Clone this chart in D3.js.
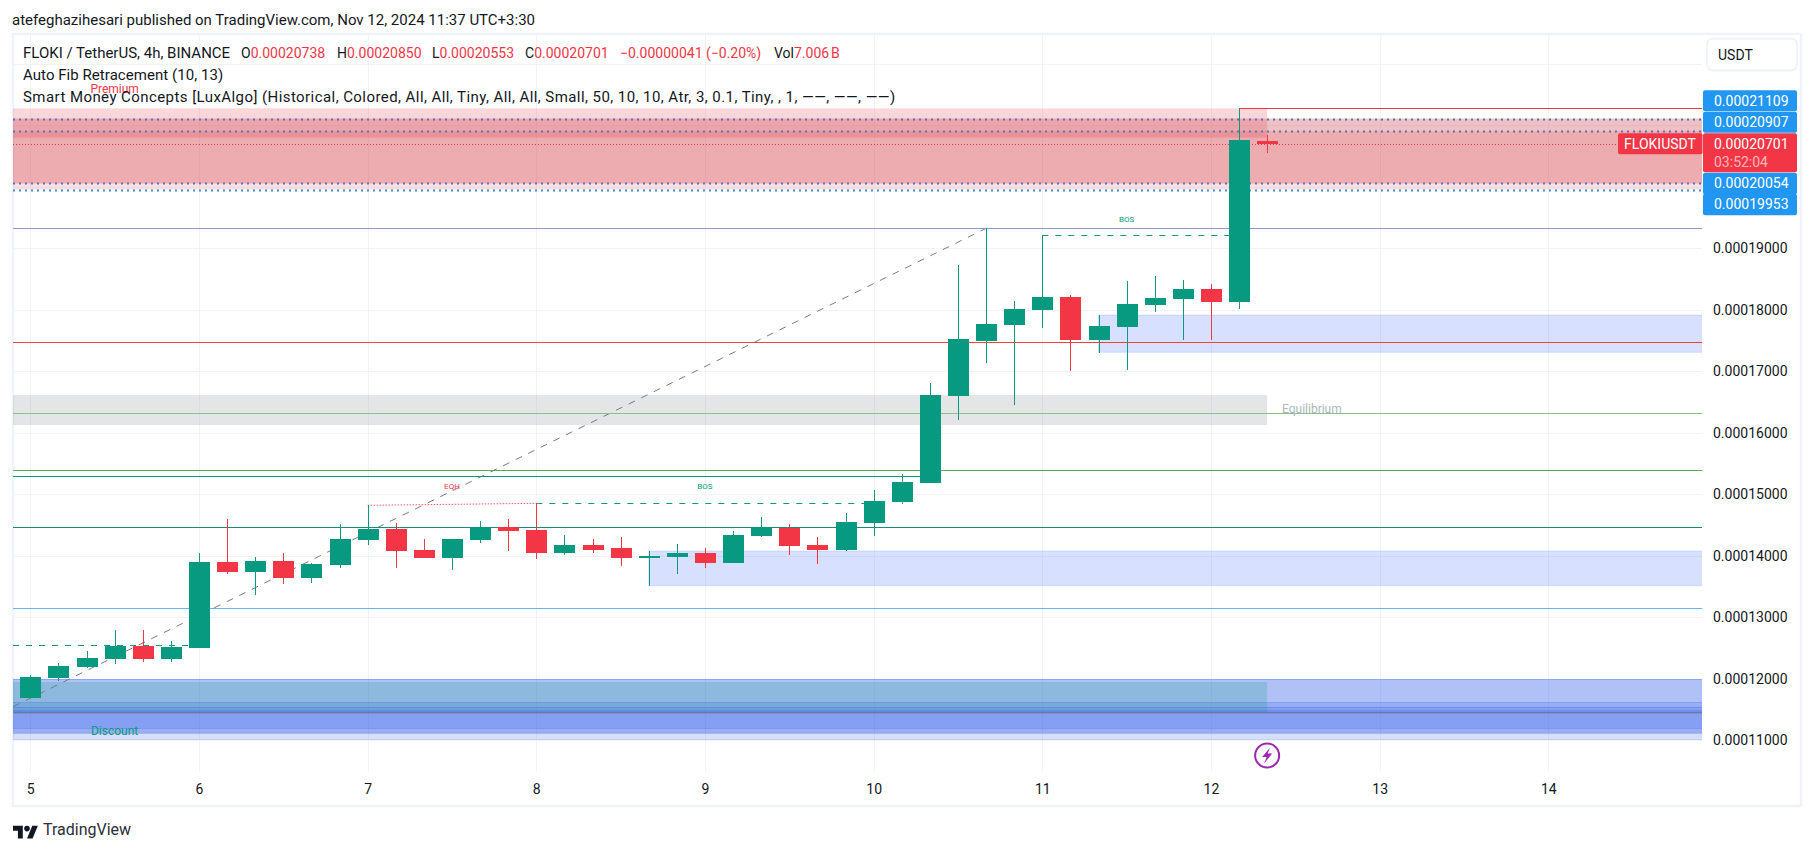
<!DOCTYPE html>
<html><head><meta charset="utf-8">
<style>html,body{margin:0;padding:0;background:#fff}svg{display:block}
text{font-family:Roboto,sans-serif;fill:#131722}</style>
<script src="https://cdnjs.cloudflare.com/ajax/libs/d3/7.8.5/d3.min.js"></script>
</head><body><svg id="c" width="1815" height="851"></svg>
<script>
// prices are in units of 0.00001 USDT
const UNIT = 1e-5;
const opens  = [11.692,12.013,12.192,12.322,12.533,12.322,12.501,13.899,13.736,13.915,13.639,13.850,14.257,14.435,14.094,13.964,14.257,14.463,14.419,14.045,14.175,14.127,13.964,13.980,14.045,13.883,14.322,14.452,14.175,14.094,14.533,14.874,15.183,16.598,17.492,17.752,17.996,18.208,17.509,17.720,18.078,18.175,18.338,18.126,20.738];
const highs  = [12.061,12.257,12.452,12.793,12.793,12.614,14.045,14.598,13.980,14.045,13.883,14.517,14.826,14.533,14.273,14.273,14.566,14.598,14.853,14.338,14.273,14.305,14.078,14.192,14.127,14.403,14.631,14.517,14.305,14.696,15.070,15.330,16.809,18.728,19.325,18.143,19.211,18.240,17.915,18.468,18.549,18.484,18.419,21.276,20.850];
const lows   = [11.687,11.964,12.170,12.240,12.273,12.273,12.501,13.704,13.362,13.541,13.557,13.801,14.175,13.801,13.964,13.769,14.208,14.078,13.948,14.013,14.045,13.834,13.509,13.704,13.801,13.883,14.305,14.013,13.866,14.078,14.322,14.842,15.183,16.208,17.135,16.452,17.704,17.005,17.297,17.021,17.964,17.509,17.509,18.013,20.553];
const closes = [12.029,12.208,12.338,12.538,12.322,12.517,13.899,13.736,13.915,13.639,13.866,14.273,14.435,14.078,13.964,14.273,14.463,14.403,14.045,14.175,14.094,13.964,13.996,14.045,13.883,14.338,14.468,14.159,14.094,14.549,14.891,15.200,16.614,17.525,17.769,18.013,18.208,17.509,17.736,18.094,18.192,18.338,18.126,20.761,20.701];
const dayTicks = [5,6,7,8,9,10,11,12,13,14];
const priceTicks = [19,18,17,16,15,14,13,12,11];
const gridPrices = [22,21,20,19,18,17,16,15,14,13,12,11];
const CANDLES_PER_DAY = 6;

// [top, bottom, lastDay, fill]
const premiumBands = [
  [21.276,20.798,12.333,"rgba(242,54,69,0.2)"],
  [20.907,19.953,null,"rgba(242,54,69,0.15)"],
  [21.109,20.054,null,"rgba(200,50,60,0.3)"]];
const discountBands = [
  [11.996,11.114,null,"rgba(55,100,235,0.4)"],
  [11.618,11.015,null,"rgba(55,100,235,0.2)"],
  [11.546,11.195,null,"rgba(55,100,240,0.18)"],
  [11.492,11.430,null,"rgba(55,100,240,0.3)"],
  [11.948,11.455,12.333,"rgba(8,153,129,0.2)"]];
const eqBand = [16.614,16.126,12.333];
// [top, bottom, firstDay]
const demandZones = [[14.078,13.514,8.667],[17.915,17.309,11.333]];
// [price, firstDay, lastDay, colour, width]
const levels = [
  [21.276,12.167,null,"#f23645",1],
  [19.325,null,null,"#8c9bc6",1],
  [17.471,null,null,"#f44336",1],
  [16.317,null,null,"#81c784",1],
  [15.390,null,null,"#4caf50",1],
  [15.292,null,10.333,"#089981",1],
  [14.463,null,null,"#1b8b77",1],
  [13.146,null,null,"#64b5f6",1],
  [11.455,null,null,"#787b86",1]];
const fibDotted = [[21.109,"#5b72b8"],[20.907,"#5b72b8"],[20.054,"#5b72b8"],[19.953,"#3f8fdc"]];
const dashes = [[12.544,null,6,"#089981"],[14.853,8,10,"#089981"],[19.211,11,12.167,"#089981"]];
const eqh = [[7,14.821],[8,14.853]];
const fibDiagonal = [[4.898,11.546],[10.667,19.325]];
const smcLabels = [
  ["Premium",5.5,21.58,"#f23645",12],["Discount",5.5,11.14,"#089981",12],
  ["EQH",7.5,15.12,"#f23645",8],["BOS",9,15.12,"#089981",8],["BOS",11.5,19.46,"#089981",8]];
const titleText = "atefeghazihesari published on TradingView.com, Nov 12, 2024 11:37 UTC+3:30";
const legendSym = "FLOKI / TetherUS, 4h, BINANCE";
const legendOHLC = [["O","0.00020738"],["H","0.00020850"],["L","0.00020553"],["C","0.00020701"]];
const legendChange = "\u22120.00000041 (\u22120.20%)";
const legendVol = ["Vol","7.006\u202fB"];
const legendLines = ["Auto Fib Retracement (10, 13)",
 "Smart Money Concepts [LuxAlgo] (Historical, Colored, All, All, Tiny, All, All, Small, 50, 10, 10, Atr, 3, 0.1, Tiny, , 1, \u2014\u2014, \u2014\u2014, \u2014\u2014)"];
const upperLabels = [20.907,21.109];
const lowerLabels = [20.054,19.953];
const lastPrice = 20.701, countdown = "03:52:04", symbol = "FLOKIUSDT", currency = "USDT";

const GREEN="#089981", RED="#f23645", BLUE="#2196f3", GRID="#f0f3fa";
const P={l:13,r:1702,t:34,b:771.7};
const svg=d3.select("#c");
const y=d3.scaleLinear().domain([11,19]).range([740.3,248.3]);
const x=d3.scaleLinear().domain([5,14]).range([30.3,1548.3]);
const fmt=v=>(v*UNIT).toFixed(8);
const dayOf=i=>5+i/CANDLES_PER_DAY;
const snap=v=>Math.round(v)+.5;

svg.append("defs").append("clipPath").attr("id","plot").append("rect")
  .attr("x",P.l).attr("y",P.t).attr("width",P.r-P.l).attr("height",P.b-P.t);

// frame
svg.append("rect").attr("x",13).attr("y",34).attr("width",1788).attr("height",772)
  .attr("fill","#fff").attr("stroke",GRID).attr("stroke-width",2.5);

const g=svg.append("g").attr("clip-path","url(#plot)");
// grid
g.selectAll(".gh").data(gridPrices).join("line").attr("x1",P.l).attr("x2",P.r)
  .attr("y1",d=>snap(y(d))).attr("y2",d=>snap(y(d))).attr("stroke",GRID);
g.selectAll(".gv").data(dayTicks).join("line").attr("y1",P.t).attr("y2",P.b)
  .attr("x1",d=>snap(x(d))).attr("x2",d=>snap(x(d))).attr("stroke",GRID);

const band=(data)=>g.append("g").selectAll("rect").data(data).join("rect")
  .attr("x",P.l).attr("width",d=>(d[2]?x(d[2]):P.r)-P.l)
  .attr("y",d=>y(d[0])).attr("height",d=>y(d[1])-y(d[0]))
  .attr("fill",d=>d[3]).attr("stroke","none");
band(premiumBands);
band(discountBands);
// discount band edges
g.append("g").selectAll("line").data(discountBands.slice(0,3).flatMap(d=>[d[0],d[1]])).join("line")
  .attr("x1",P.l).attr("x2",P.r).attr("y1",d=>snap(y(d))).attr("y2",d=>snap(y(d)))
  .attr("stroke","rgba(55,100,235,0.25)");
band([[eqBand[0],eqBand[1],eqBand[2],"rgba(120,123,134,0.2)"]]);
// demand zones
g.append("g").selectAll("rect").data(demandZones).join("rect")
  .attr("x",d=>x(d[2])).attr("width",d=>P.r-x(d[2])+2)
  .attr("y",d=>y(d[0])).attr("height",d=>y(d[1])-y(d[0]))
  .attr("fill","rgba(41,98,255,0.19)").attr("stroke","rgba(41,98,255,0.15)");

// fib levels
g.append("g").selectAll("line").data(fibDotted).join("line")
  .attr("x1",P.l).attr("x2",P.r).attr("y1",d=>snap(y(d[0]))).attr("y2",d=>snap(y(d[0])))
  .attr("stroke",d=>d[1]).attr("stroke-width",2).attr("stroke-dasharray","2 4");
// last price dotted
g.append("line").attr("x1",P.l).attr("x2",P.r).attr("y1",snap(y(lastPrice))).attr("y2",snap(y(lastPrice)))
  .attr("stroke",RED).attr("stroke-dasharray","1 2");
// fib diagonal
g.append("line").attr("x1",x(fibDiagonal[0][0])).attr("y1",y(fibDiagonal[0][1]))
  .attr("x2",x(fibDiagonal[1][0])).attr("y2",y(fibDiagonal[1][1]))
  .attr("stroke","#787b86").attr("stroke-width",1).attr("stroke-dasharray","7 7");
// solid levels
g.append("g").selectAll("line").data(levels).join("line")
  .attr("x1",d=>d[1]?x(d[1]):P.l).attr("x2",d=>d[2]?x(d[2]):P.r)
  .attr("y1",d=>snap(y(d[0]))).attr("y2",d=>snap(y(d[0]))).attr("stroke",d=>d[3]).attr("stroke-width",d=>d[4]);
// BOS dashes
g.append("g").selectAll("line").data(dashes).join("line")
  .attr("x1",d=>d[1]?x(d[1]):P.l).attr("x2",d=>x(d[2]))
  .attr("y1",d=>snap(y(d[0]))).attr("y2",d=>snap(y(d[0])))
  .attr("stroke",d=>d[3]).attr("stroke-dasharray","6 7");
// EQH
g.append("line").attr("x1",x(eqh[0][0])).attr("y1",y(eqh[0][1])).attr("x2",x(eqh[1][0])).attr("y2",y(eqh[1][1]))
  .attr("stroke",RED).attr("stroke-width",1).attr("stroke-dasharray","1.5 1.5").attr("opacity",.8);

// candles
const idx=d3.range(opens.length);
const colr=i=>closes[i]>=opens[i]?GREEN:RED;
const cg=g.append("g").attr("shape-rendering","crispEdges");
cg.selectAll(".w").data(idx).join("line")
  .attr("x1",i=>snap(x(dayOf(i)))).attr("x2",i=>snap(x(dayOf(i))))
  .attr("y1",i=>y(highs[i])).attr("y2",i=>y(lows[i])).attr("stroke",colr);
cg.selectAll(".b").data(idx).join("rect")
  .attr("x",i=>snap(x(dayOf(i)))-10.5).attr("width",21)
  .attr("y",i=>y(Math.max(opens[i],closes[i])))
  .attr("height",i=>Math.max(1,Math.abs(y(opens[i])-y(closes[i])))).attr("fill",colr);

// small labels
g.append("g").selectAll("text").data(smcLabels).join("text")
  .attr("x",d=>x(d[1])).attr("y",d=>y(d[2])).attr("text-anchor","middle").attr("dominant-baseline","middle")
  .attr("font-size",d=>d[4]).style("fill",d=>d[3]).text(d=>d[0]);
g.append("text").attr("x",1282).attr("y",y(16.317)-3).attr("dominant-baseline","middle")
  .attr("font-size",12).style("fill","#b2b5be").text("Equilibrium");

// axes
const ya=svg.append("g").attr("transform",`translate(${P.r},0)`)
  .call(d3.axisRight(y).tickValues(priceTicks).tickSize(0).tickPadding(11).tickFormat(fmt));
ya.select(".domain").remove();
ya.selectAll("text").attr("font-size",14).attr("font-family","Roboto,sans-serif").style("fill","#131722");
const xa=svg.append("g").attr("transform","translate(0,784)")
  .call(d3.axisBottom(x).tickValues(dayTicks).tickSize(0).tickPadding(0).tickFormat(d3.format("d")));
xa.select(".domain").remove();
xa.selectAll("text").attr("font-size",14).attr("font-family","Roboto,sans-serif").style("fill","#131722");

// price tags (stacked around the last-price tag)
const tagX=1703,tagW=94,tagH=21;
const lastTop=y(lastPrice)-10.5, lastH=39;
const tag=(top,h,fill,rx=2)=>svg.append("rect").attr("x",tagX).attr("y",top).attr("width",tagW).attr("height",h).attr("rx",rx).attr("fill",fill);
const tagTxt=(t,cy,col="#fff")=>svg.append("text").attr("x",tagX+11).attr("y",cy)
  .attr("dominant-baseline","central").attr("font-size",14).style("fill",col).text(t);
upperLabels.forEach((v,k)=>{const top=lastTop-(k+1)*(tagH+.5);tag(top,tagH,BLUE);tagTxt(fmt(v),top+tagH/2);});
lowerLabels.forEach((v,k)=>{const top=lastTop+lastH+.5+k*tagH;tag(top,tagH+.5,BLUE);tagTxt(fmt(v),top+tagH/2);});
tag(lastTop,lastH,RED);
tagTxt(fmt(lastPrice),lastTop+11);
tagTxt(countdown,lastTop+28.5,"rgba(255,255,255,.65)");
svg.append("rect").attr("x",1618).attr("y",lastTop).attr("width",84.5).attr("height",21).attr("rx",2).attr("fill",RED);
svg.append("text").attr("x",1660).attr("y",lastTop+10.5).attr("text-anchor","middle").attr("dominant-baseline","central")
  .attr("font-size",14).style("fill","#fff").text(symbol);

// currency button
svg.append("rect").attr("x",1707).attr("y",38.5).attr("width",90).attr("height",32).attr("rx",6)
  .attr("fill","#fff").attr("stroke",GRID).attr("stroke-width",2);
svg.append("text").attr("x",1718).attr("y",54.5).attr("dominant-baseline","central").attr("font-size",14).text(currency);

// title + legend
svg.append("text").attr("x",12).attr("y",20).attr("dominant-baseline","central").attr("font-size",15).text(titleText);
const lg=svg.append("g").attr("font-size",14);
lg.append("text").attr("x",23).attr("y",53).attr("dominant-baseline","central").attr("font-size",15).text(legendSym);
let lx=[241,337,432,525];
legendOHLC.forEach((d,k)=>{const t=lg.append("text").attr("x",lx[k]).attr("y",53).attr("dominant-baseline","central");
  t.append("tspan").text(d[0]);t.append("tspan").style("fill",RED).text(d[1]);});
lg.append("text").attr("x",620).attr("y",53).attr("dominant-baseline","central").style("fill",RED).text(legendChange);
const vt=lg.append("text").attr("x",774).attr("y",53).attr("dominant-baseline","central");
vt.append("tspan").text(legendVol[0]);vt.append("tspan").style("fill",RED).text(legendVol[1]);
legendLines.forEach((d,k)=>lg.append("text").attr("x",23).attr("y",75+k*22).attr("dominant-baseline","central")
  .attr("font-size",15).attr("letter-spacing",k?0.43:0.05).text(d));

// lightning marker
const m=svg.append("g").attr("transform",`translate(${x(12.333)},755.5)`);
m.append("circle").attr("r",12).attr("fill","#fff").attr("stroke","#9c27b0").attr("stroke-width",2);
m.append("path").attr("d","M3,-8 L-5,1.5 L-0.5,1.5 L-3,8 L5,-2 L0.5,-2 Z").attr("fill","#9c27b0");

// footer logo
const lo=svg.append("g").attr("transform","translate(13,823) scale(0.7)").attr("fill","#131722");
lo.append("path").attr("d","M14 22H7V11H0V4h14v18zM28 22h-8l7.5-18h8L28 22z");
lo.append("circle").attr("cx",20).attr("cy",8).attr("r",4);
svg.append("text").attr("x",43).attr("y",829).attr("dominant-baseline","central").attr("font-size",16)
  .style("fill","#2a2e39").text("TradingView");
</script></body></html>
